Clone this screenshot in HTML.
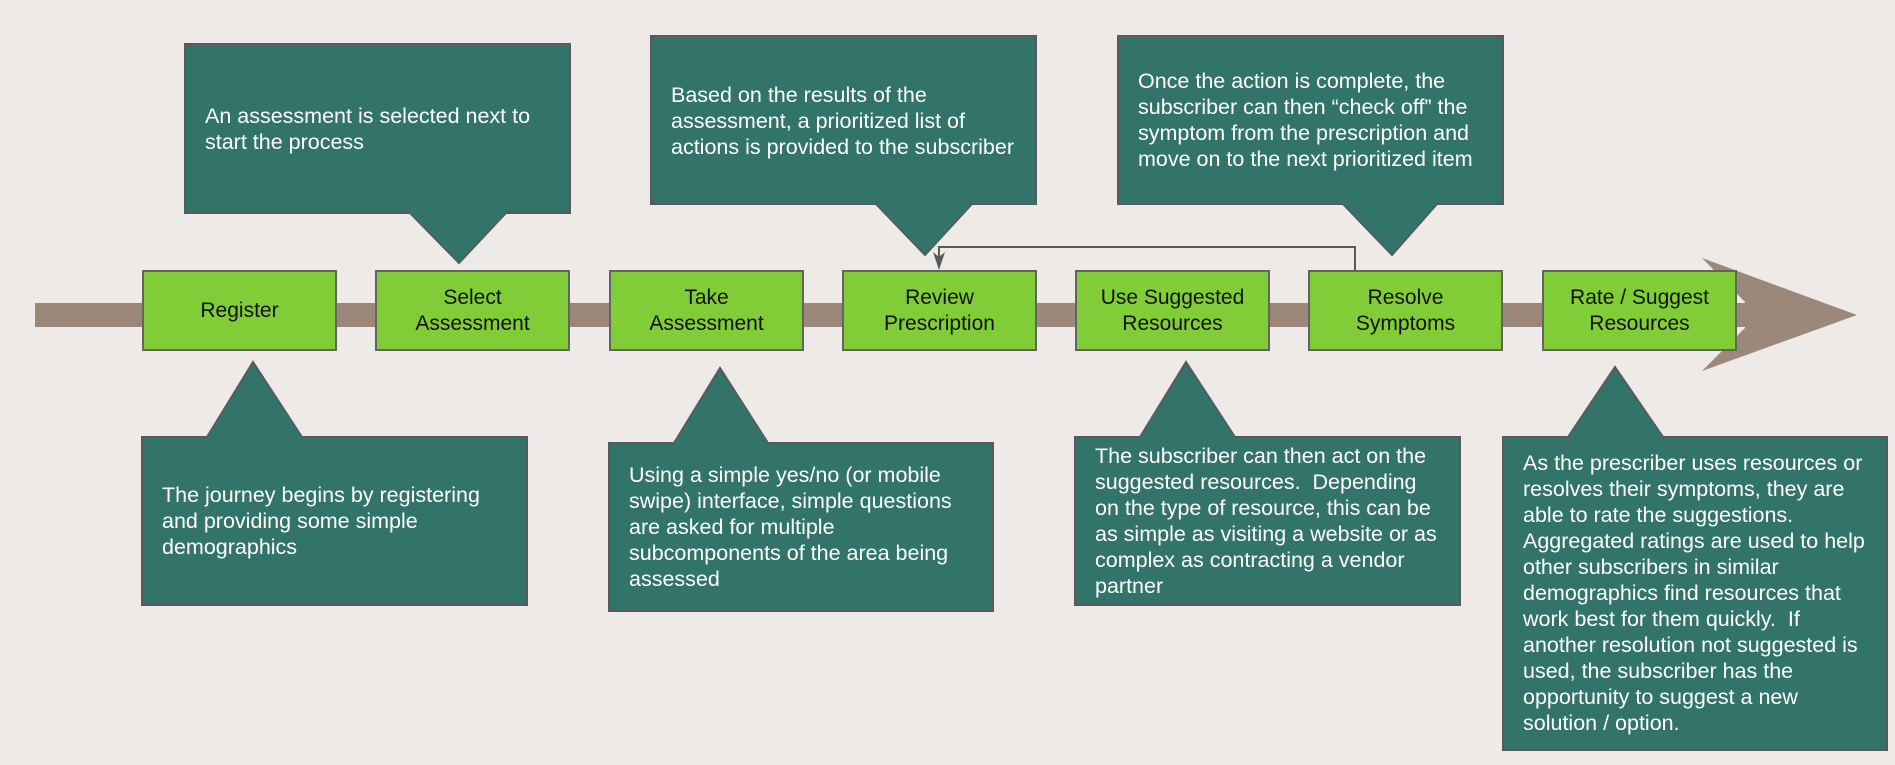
<!DOCTYPE html>
<html><head><meta charset="utf-8"><style>
html,body{margin:0;padding:0}
body{width:1895px;height:765px;background:#eeeae7;position:relative;overflow:hidden;font-family:"Liberation Sans",Arial,sans-serif}
.box{position:absolute;box-sizing:border-box;background:#80cd37;border:2px solid #636363;display:flex;align-items:center;justify-content:center;text-align:center;font-size:21px;line-height:26px;color:#111;white-space:nowrap}
.co{position:absolute;box-sizing:border-box;padding:0 20px;display:flex;align-items:center;color:#fff;font-size:21.5px;line-height:26px;white-space:nowrap}
svg{position:absolute;left:0;top:0}
</style></head><body>
<svg width="1895" height="765">
<rect x="35" y="303" width="1715" height="24" fill="#9b8878"/>
<polygon points="1702,258 1857,315 1702,371 1745,328 1745,302" fill="#9b8878"/>
<g fill="#32736a" stroke="#595959" stroke-width="2">
<polygon points="185,44 570,44 570,213 506,213 459,263 410,213 185,213"/>
<polygon points="651,36 1036,36 1036,204 972,204 925,255 876,204 651,204"/>
<polygon points="1118,36 1503,36 1503,204 1437,204 1392,255 1343,204 1118,204"/>
<polygon points="142,437 207,437 253,362 302,437 527,437 527,605 142,605"/>
<polygon points="609,443 674,443 720,368 768,443 993,443 993,611 609,611"/>
<polygon points="1075,437 1140,437 1186,362 1235,437 1460,437 1460,605 1075,605"/>
<polygon points="1503,437 1568,437 1615,367 1663,437 1887,437 1887,750 1503,750"/>
</g>
<g fill="#32736a">
<polygon points="507,211 459,262 409,211"/>
<polygon points="973,202 925,254 875,202"/>
<polygon points="1438,202 1392,254 1342,202"/>
<polygon points="206,439 253,364 303,439"/>
<polygon points="673,445 720,370 769,445"/>
<polygon points="1139,439 1186,364 1236,439"/>
<polygon points="1567,439 1615,369 1664,439"/>
</g>
<polyline points="1355,270 1355,247 939,247 939,262" fill="none" stroke="#595959" stroke-width="2"/>
<polygon points="933,252 939,270 945,252 939,257" fill="#595959"/>
</svg>
<div class="box" style="left:142px;top:270px;width:195px;height:81px">Register</div>
<div class="box" style="left:375px;top:270px;width:195px;height:81px">Select<br>Assessment</div>
<div class="box" style="left:609px;top:270px;width:195px;height:81px">Take<br>Assessment</div>
<div class="box" style="left:842px;top:270px;width:195px;height:81px">Review<br>Prescription</div>
<div class="box" style="left:1075px;top:270px;width:195px;height:81px">Use Suggested<br>Resources</div>
<div class="box" style="left:1308px;top:270px;width:195px;height:81px">Resolve<br>Symptoms</div>
<div class="box" style="left:1542px;top:270px;width:195px;height:81px">Rate / Suggest<br>Resources</div>

<div class="co" style="left:185px;top:44px;width:385px;height:169px">An assessment is selected next to<br>start the process</div>
<div class="co" style="left:651px;top:36px;width:385px;height:170px">Based on the results of the<br>assessment, a prioritized list of<br>actions is provided to the subscriber</div>
<div class="co" style="left:1118px;top:36px;width:385px;height:168px;align-items:flex-start;padding-top:32px">Once the action is complete, the<br>subscriber can then “check off” the<br>symptom from the prescription and<br>move on to the next prioritized item</div>
<div class="co" style="left:142px;top:437px;width:385px;height:168px">The journey begins by registering<br>and providing some simple<br>demographics</div>
<div class="co" style="left:609px;top:443px;width:384px;height:168px">Using a simple yes/no (or mobile<br>swipe) interface, simple questions<br>are asked for multiple<br>subcomponents of the area being<br>assessed</div>
<div class="co" style="left:1075px;top:437px;width:385px;height:168px">The subscriber can then act on the<br>suggested resources.&nbsp; Depending<br>on the type of resource, this can be<br>as simple as visiting a website or as<br>complex as contracting a vendor<br>partner</div>
<div class="co" style="left:1503px;top:437px;width:384px;height:313px;align-items:flex-start;padding-top:13px">As the prescriber uses resources or<br>resolves their symptoms, they are<br>able to rate the suggestions.<br>Aggregated ratings are used to help<br>other subscribers in similar<br>demographics find resources that<br>work best for them quickly.&nbsp; If<br>another resolution not suggested is<br>used, the subscriber has the<br>opportunity to suggest a new<br>solution / option.</div>
</body></html>
